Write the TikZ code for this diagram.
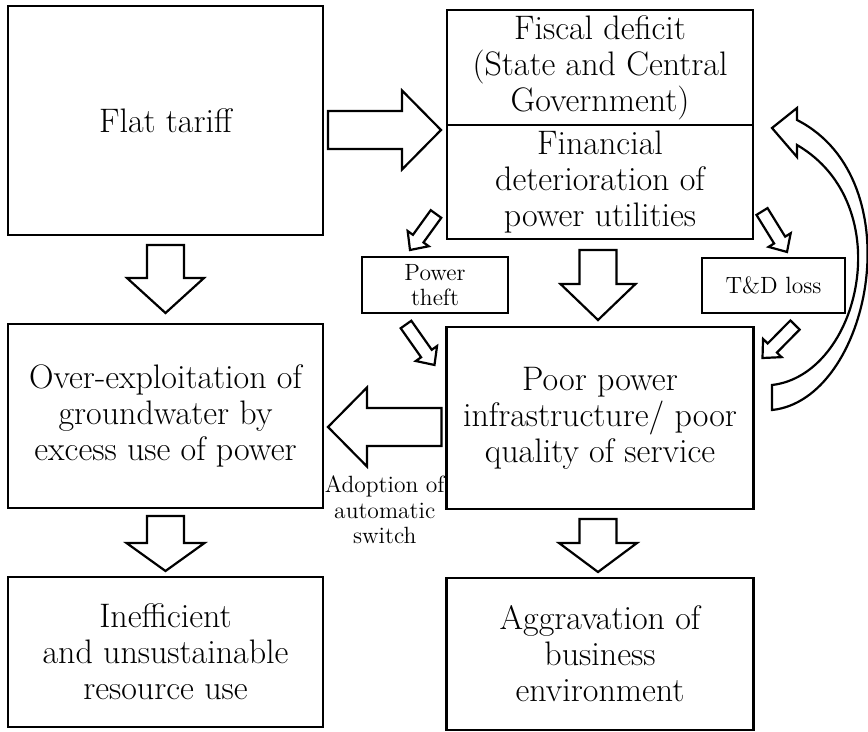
\documentclass[tikz,border=0pt]{standalone}
\usetikzlibrary{calc}

\newcommand\bigText{\fontsize{17}{18}\selectfont}
\newcommand\smallText{\fontsize{11.75}{12.75}\selectfont}
\newcommand\px{0.5pt}
\newcommand\lineW{1.1pt}

% fat outlined arrow: tail, tip, half shaft, half head, head length (in px)
\newcommand\blockArrow[5]{%
  \filldraw[arrowline] let \p1=(#1), \p2=(#2),
    \n1={atan2(\y2-\y1,\x2-\x1)}, \n2={veclen(\x2-\x1,\y2-\y1)} in
    [shift={(\p1)}, rotate=\n1]
    (0pt,{-#3*\px}) -- ({\n2-#5*\px},{-#3*\px}) -- ({\n2-#5*\px},{-#4*\px})
    -- (\n2,0pt) -- ({\n2-#5*\px},{#4*\px}) -- ({\n2-#5*\px},{#3*\px})
    -- (0pt,{#3*\px}) -- cycle;}

\tikzset{
  box/.style={draw, line width=\lineW, fill=white, align=center, inner sep=0pt, outer sep=0pt, font=\bigText},
  smallbox/.style={box, font=\smallText},
  arrowline/.style={draw=black, fill=white, line width=\lineW, line join=miter},
}

\begin{document}
\begin{tikzpicture}[x=0.5pt, y=-0.5pt]

    \useasboundingbox (0,0) rectangle (868,732);

    % left column
    \node[box, minimum width=157.5pt, minimum height=114.5pt] (flat) at (165.5,120.5) {Flat tariff};
    \node[box, minimum width=157.5pt, minimum height=92pt] (over) at (165.5,416) {Over-exploitation of\\groundwater by\\excess use of power};
    \node[box, minimum width=157.5pt, minimum height=75pt] (ineff) at (165.5,652) {Inefficient\\and unsustainable\\resource use};

    % right column
    \node[box, minimum width=153pt, minimum height=57.5pt] (fiscal) at (600,67.5) {Fiscal deficit\\(State and Central\\Government)};
    \node[box, minimum width=153pt, minimum height=57pt] (finan) at (600,182) {Financial\\deterioration of\\power utilities};
    \node[box, minimum width=153.5pt, minimum height=91pt] (poor) at (600,418) {Poor power\\infrastructure/ poor\\quality of service};
    \node[box, minimum width=153.5pt, minimum height=76pt] (aggr) at (600,654) {Aggravation of\\business\\environment};

    % small boxes
    \node[smallbox, minimum width=73pt, minimum height=28pt] (theft) at (435,285) {Power\\theft};
    \node[smallbox, minimum width=71.5pt, minimum height=27.5pt] (tdloss) at (773.5,285.5) {T\&D loss};

    % big arrows
    \blockArrow{$(flat.east)+(5,9.5)$}{$(fiscal.south west)+(-6,5)$}{19}{39.5}{39}
    \blockArrow{$(flat.south)+(0,10)$}{$(over.north)+(0,-11)$}{18.5}{38.5}{35}
    \blockArrow{$(over.south)+(0,8)$}{$(ineff.north)+(0,-6)$}{18.5}{39}{28}
    \blockArrow{$(finan.south)+(-2,11)$}{$(poor.north)+(-2,-7)$}{18.5}{37.5}{36}
    \blockArrow{$(poor.south)+(-2,10)$}{$(aggr.north)+(-2,-6)$}{18.5}{39}{29}
    \blockArrow{$(poor.west)+(-5,9)$}{$(over.east)+(5,11)$}{19}{39.5}{39}

    % small arrows
    \blockArrow{$(finan.south west)+(-11,-25)$}{$(theft.north)+(-25,-7)$}{6.5}{13}{14}
    \blockArrow{$(finan.south east)+(9,-27.5)$}{$(tdloss.north)+(13.5,-6)$}{6.5}{13}{14}
    \blockArrow{$(theft.south)+(-29,11.5)$}{$(poor.north west)+(-12,38)$}{6.5}{13}{14}
    \blockArrow{$(tdloss.south)+(21.5,12)$}{$(poor.north east)+(9,31)$}{6.5}{13}{14}

    % curved arrow back to the top box
    \filldraw[arrowline] (772,410) .. controls (870,400) and (915,180) .. (797,120)
      -- (797,108) -- (772,128) -- (797,157) -- (797,145)
      .. controls (900,205) and (860,375) .. (772,385) -- cycle;

    \node[font=\smallText, align=center] (switch) at ($(over.east)!.5!(poor.west)+(0,93)$) {Adoption of\\automatic\\switch};

\end{tikzpicture}
\end{document}
